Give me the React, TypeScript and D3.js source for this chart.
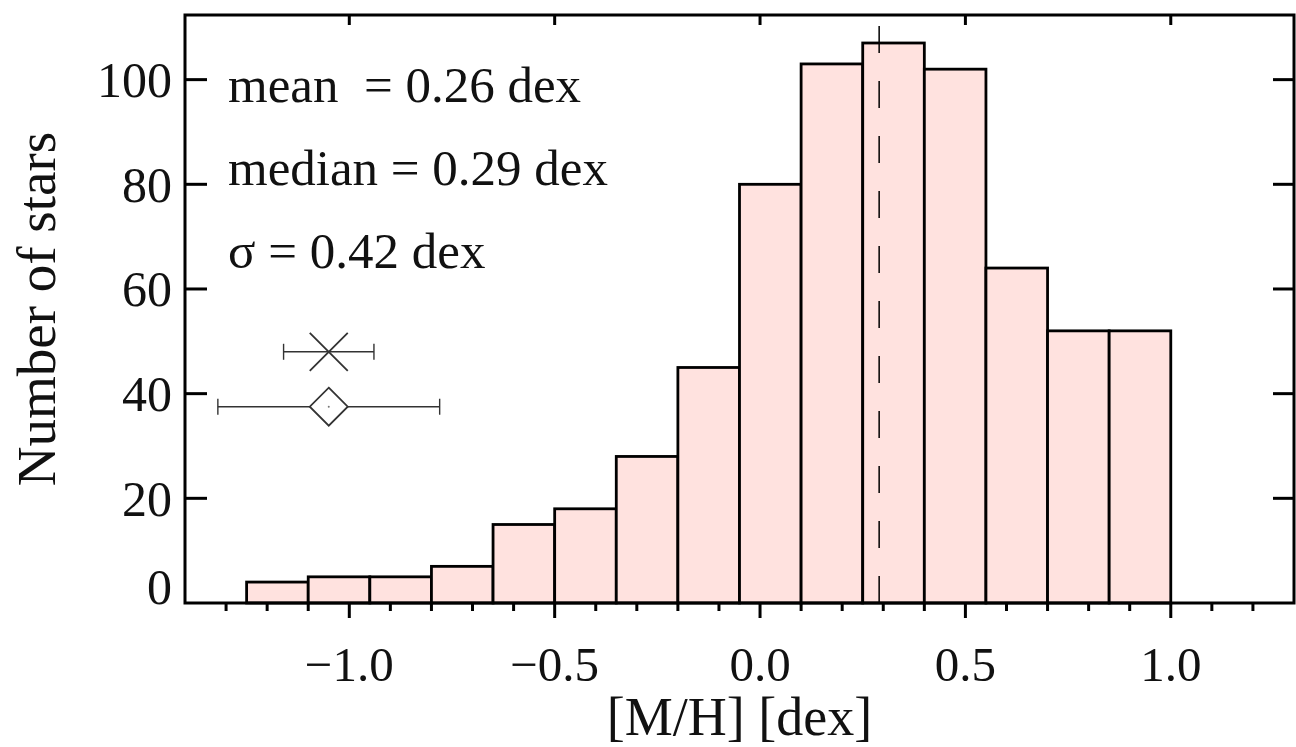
import React from 'react';
import * as d3 from 'd3';

// histogram of [M/H]
const binEdges = [-1.25, -1.1, -0.95, -0.8, -0.65, -0.5, -0.35, -0.2, -0.05, 0.1, 0.25, 0.4, 0.55, 0.7, 0.85, 1.0];
const counts = [4, 5, 5, 7, 15, 18, 28, 45, 80, 103, 107, 102, 64, 52, 52];
const xTickValues = [-1.0, -0.5, 0.0, 0.5, 1.0];
const xTickLabels = ['\u22121.0', '\u22120.5', '0.0', '0.5', '1.0'];
const yTickValues = [0, 20, 40, 60, 80, 100];
const statLabels = ['mean  = 0.26 dex', 'median = 0.29 dex', '\u03c3 = 0.42 dex'];
const medianValue = 0.29;
const medianTop = 110.8;

// typical error bars shown in the corner
const errMarkers = ['cross', 'diamond'];
const errX = [-1.05, -1.05];
const errY = [48, 37.5];
const errHalfWidth = [0.11, 0.27];

const W = 1296;
const H = 747;
const left = 185, right = 1294, top = 15, bottom = 603;
const font = '"Liberation Serif", "Times New Roman", serif';

const App = () => {
  const x = d3.scaleLinear().domain([-1.4, 1.3]).range([left, right]);
  const y = d3.scaleLinear().domain([0, 112.35]).range([bottom, top]);

  const bars = counts.map((c, i) => ({ x0: binEdges[i], x1: binEdges[i + 1], c }));
  const minorTicks = d3.range(-13, 13).map(i => i / 10)
    .filter(v => !xTickValues.some(t => Math.abs(t - v) < 1e-6));

  return (
    <svg width={W} height={H} style={{ position: 'absolute', left: 0, top: 0, background: '#fff' }}
      fontFamily={font}>
      {/* bars */}
      {bars.map((b, i) => (
        <rect key={i} x={x(b.x0)} y={y(b.c)} width={x(b.x1) - x(b.x0)} height={y(0) - y(b.c)}
          fill="#ffe2df" stroke="#000" strokeWidth={2.8} />
      ))}

      {/* median line */}
      <line x1={x(medianValue)} x2={x(medianValue)} y1={y(0)} y2={y(medianTop)}
        stroke="#000" strokeWidth={1.5} strokeDasharray="27 28" />

      {/* error bar symbols */}
      {errMarkers.map((m, i) => {
        const cx = x(errX[i]);
        const cy = y(errY[i]);
        const xl = x(errX[i] - errHalfWidth[i]);
        const xr = x(errX[i] + errHalfWidth[i]);
        const cap = 8;
        const s = 19;
        return (
          <g key={m} stroke="#333" strokeWidth={1.4} fill="none">
            <line x1={xl} x2={xr} y1={cy} y2={cy} />
            <line x1={xl} x2={xl} y1={cy - cap} y2={cy + cap} />
            <line x1={xr} x2={xr} y1={cy - cap} y2={cy + cap} />
            {m === 'cross' ? (
              <path d={`M${cx - s},${cy - s}L${cx + s},${cy + s}M${cx - s},${cy + s}L${cx + s},${cy - s}`} strokeWidth={1.8} />
            ) : (
              <>
                <path d={`M${cx},${cy - s}L${cx + s},${cy}L${cx},${cy + s}L${cx - s},${cy}Z`} fill="#fff" strokeWidth={1.8} />
                <circle cx={cx} cy={cy} r={1} fill="#777" stroke="none" />
              </>
            )}
          </g>
        );
      })}

      {/* stats text */}
      {statLabels.map((t, i) => (
        <text key={t} x={228} y={102 + i * 83} fontSize={51} fill="#111" style={{ whiteSpace: 'pre' }}>{t}</text>
      ))}

      {/* frame */}
      <rect x={left} y={top} width={right - left} height={bottom - top} fill="none" stroke="#000" strokeWidth={3} />

      {/* bottom axis ticks (outward) */}
      {xTickValues.map(v => (
        <line key={'bM' + v} x1={x(v)} x2={x(v)} y1={bottom} y2={bottom + 15} stroke="#000" strokeWidth={3} />
      ))}
      {minorTicks.map(v => (
        <line key={'bm' + v} x1={x(v)} x2={x(v)} y1={bottom} y2={bottom + 8} stroke="#000" strokeWidth={3} />
      ))}
      {/* top axis ticks (inward) */}
      {xTickValues.map(v => (
        <line key={'tM' + v} x1={x(v)} x2={x(v)} y1={top} y2={top + 10} stroke="#000" strokeWidth={3} />
      ))}
      {/* left and right ticks */}
      {yTickValues.filter(v => v > 0).map(v => (
        <g key={'y' + v}>
          <line x1={left} x2={left + 22} y1={y(v)} y2={y(v)} stroke="#000" strokeWidth={3} />
          <line x1={right - 21} x2={right} y1={y(v)} y2={y(v)} stroke="#000" strokeWidth={3} />
        </g>
      ))}

      {/* tick labels */}
      {xTickValues.map((v, i) => (
        <text key={'xl' + v} x={x(v)} y={681} textAnchor="middle" fontSize={49} fill="#111">{xTickLabels[i]}</text>
      ))}
      {yTickValues.map(v => (
        <text key={'yl' + v} x={172} y={y(v) - (v === 0 ? 17 : 0)} dy="0.35em" textAnchor="end" fontSize={50} fill="#111">{v}</text>
      ))}

      {/* axis titles */}
      <text x={(left + right) / 2} y={735} textAnchor="middle" fontSize={54} fill="#111">[M/H] [dex]</text>
      <text transform={`translate(55,${(top + bottom) / 2}) rotate(-90)`} textAnchor="middle" fontSize={55} fill="#111">Number of stars</text>
    </svg>
  );
};

export default App;
